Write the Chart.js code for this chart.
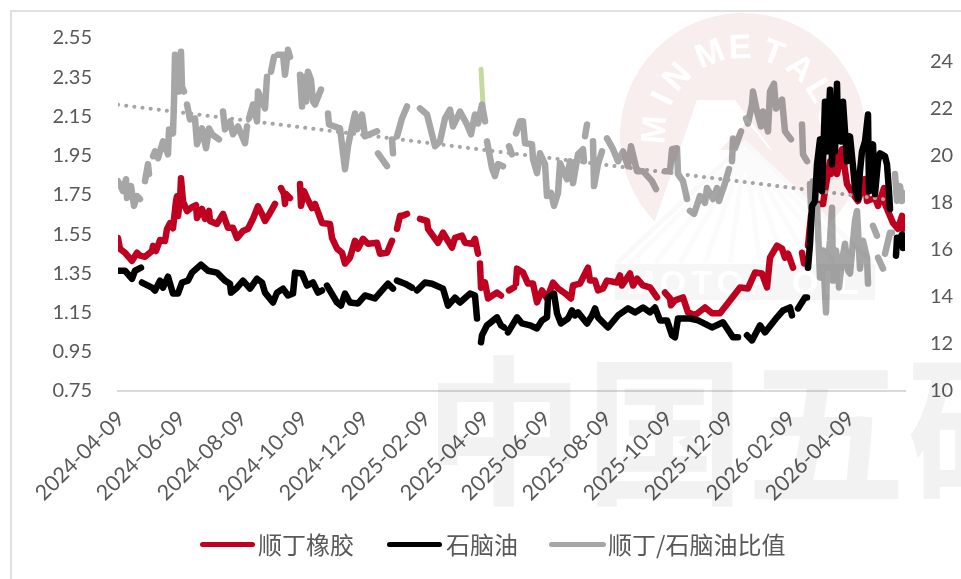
<!DOCTYPE html>
<html lang="zh">
<head>
<meta charset="utf-8">
<script src="https://cdn.jsdelivr.net/npm/chart.js@4"></script>
<style>
html,body{margin:0;padding:0;background:#fff;width:961px;height:579px;overflow:hidden}
#wrap{position:relative;width:961px;height:579px;overflow:hidden}
canvas{position:absolute;left:0;top:0}
#frame{position:absolute;left:10px;top:10px;width:960px;height:580px;border-left:2px solid #e0e0e0;border-top:2px solid #e0e0e0}
#mark{position:absolute;left:0;top:0;mix-blend-mode:multiply;pointer-events:none}
#legend{position:absolute;left:0;top:0;width:961px;height:579px;pointer-events:none;font-family:"Noto Sans CJK SC","Noto Sans",sans-serif;font-size:24px;color:#595959}
#legend .sw{position:absolute;height:5px;border-radius:3px;top:542px}
#legend .tx{position:absolute;top:527px;line-height:34px;white-space:nowrap}
</style>
</head>
<body>
<div id="wrap">
<canvas id="c" width="961" height="579"></canvas>
<div id="frame"></div>
<svg id="mark" width="961" height="579" xmlns="http://www.w3.org/2000/svg">
  <circle cx="743" cy="136" r="123" fill="#f9eeee"/>
  <polygon points="697,100 735,100 772,150 745,143 650,235" fill="#ffffff"/>
  <polygon points="720,150 770,150 747,122" fill="#f9eeee"/>
  <polygon points="617,263 745,143 873,263 873,300 617,300" fill="#ffffff"/>
  <g id="rays" stroke="#fbfbfb" stroke-width="5"></g>
  <polyline points="617,263 745,143 873,263" fill="none" stroke="#f9f9f9" stroke-width="5"/>
  <rect x="615" y="264" width="260" height="36" fill="#f6f6f6"/>
  <text x="745" y="294" text-anchor="middle" font-family="Liberation Sans" font-weight="700" font-size="34" letter-spacing="5" fill="#ffffff">MOTOR OIL</text>
  <g id="arc" font-family="Liberation Sans" font-weight="700" font-size="34" fill="#ffffff" text-anchor="middle"></g>
  <text x="424" y="492" font-family="Noto Sans CJK SC" font-weight="700" font-size="160" letter-spacing="1" fill="#f2f2f2">中国五矿</text>
</svg>
<div id="legend"></div>
</div>
<script>
const tickLabels = ["2024-04-09","2024-06-09","2024-08-09","2024-10-09","2024-12-09","2025-02-09","2025-04-09","2025-06-09","2025-08-09","2025-10-09","2025-12-09","2026-02-09","2026-04-09"];
const leftTicks = [0.75,0.95,1.15,1.35,1.55,1.75,1.95,2.15,2.35,2.55];
const rightTicks = [10,12,14,16,18,20,22,24];
const lastDay = 787;

const redDays = [0,2,7,14,19,22,27,34,35,38,42,47,49,52,55,58,59,60,62,63,65,69,74,78,79,84,87,91,92,99,105,110,115,119,125,130,135,140,144,147,152,157,null,163,166,167,168,172,null,182,183,186,189,194,197,204,212,214,219,224,227,232,237,240,245,250,259,262,269,274,null,279,282,284,289,null,302,309,310,320,325,334,337,344,347,354,357,360,null,362,363,367,370,379,383,null,391,396,null,398,399,405,410,415,419,424,429,435,440,447,453,455,462,470,472,477,480,485,489,499,502,504,512,515,519,525,532,539,null,547,552,553,557,565,570,577,587,594,602,612,622,630,637,644,649,652,659,664,667,670,675,null,684,686,null,690,693,697,705,707,712,713,717,719,724,729,735,740,747,749,757,760,766,767,775,780,784,785];
const redValues = [1.53,1.475,1.455,1.414,1.455,1.44,1.434,1.464,1.49,1.464,1.52,1.515,1.576,1.606,1.58,1.718,1.743,1.642,1.718,1.835,1.718,1.667,1.688,1.698,1.632,1.678,1.628,1.668,1.617,1.602,1.653,1.582,1.582,1.53,1.566,1.577,1.628,1.692,1.653,1.617,1.658,1.704,null,1.785,1.754,1.704,1.754,1.734,null,1.805,1.694,1.769,1.734,1.683,1.704,1.607,1.602,1.531,1.476,1.455,1.4,1.43,1.516,1.476,1.526,1.501,1.506,1.45,1.455,1.516,null,1.577,1.643,1.643,1.653,null,1.628,1.618,1.577,1.506,1.557,1.481,1.531,1.542,1.506,1.501,1.526,1.45,null,1.4,1.277,1.303,1.222,1.252,1.237,null,1.263,1.278,null,1.298,1.374,1.354,1.298,1.298,1.202,1.263,1.222,1.303,1.273,1.248,1.222,1.288,1.298,1.379,1.313,1.313,1.263,1.273,1.313,1.303,1.339,1.288,1.349,1.288,1.323,1.288,1.278,1.227,null,1.252,1.222,1.187,1.212,1.227,1.151,1.136,1.176,1.146,1.146,1.212,1.278,1.273,1.354,1.349,1.278,1.43,1.491,1.476,1.43,1.45,1.379,null,1.455,1.4,null,1.491,1.643,1.704,1.704,1.77,1.922,1.856,1.983,1.856,1.983,1.805,1.754,1.719,1.83,1.719,1.734,1.694,1.785,1.704,1.607,1.577,1.643,1.577];

const blackDays = [0,7,14,17,23,null,24,34,37,42,45,50,55,60,64,70,74,83,90,99,107,112,113,119,125,132,139,144,147,155,159,165,170,175,177,184,189,195,200,204,null,209,219,223,227,232,240,247,257,262,270,275,null,279,287,294,null,299,307,314,325,330,337,342,352,357,359,null,363,364,369,379,383,386,null,390,399,404,412,419,424,429,430,436,439,443,450,454,457,460,469,474,477,480,490,500,510,517,525,532,537,542,549,554,557,560,572,580,594,605,615,620,null,629,634,642,647,659,665,672,674,null,680,687,689,null,690,692,694,697,699,702,704,707,709,712,714,716,717,719,720,723,725,727,729,732,735,737,740,742,744,747,750,751,754,755,757,760,762,767,769,771,772,null,778,779,781,784,785];
const blackValues = [15.11,15.11,14.77,15.11,15.24,null,14.61,14.39,14.27,14.69,14.39,14.86,14.14,14.14,14.61,14.69,15.03,15.37,15.11,15.03,14.69,14.56,14.18,14.39,14.69,14.35,14.77,14.61,14.18,13.76,14.18,14.35,14.06,14.14,15.03,14.99,14.48,14.61,14.18,14.27,null,14.48,13.76,13.63,14.14,13.76,13.72,14.06,13.93,14.18,14.56,14.35,null,14.69,14.56,14.39,null,14.27,14.61,14.56,14.35,13.63,13.97,13.76,14.14,14.06,13.08,null,12.07,12.37,12.79,13.13,12.79,12.7,null,12.49,13.13,12.87,12.79,12.66,13.0,13.13,13.97,14.14,13.3,12.87,13.08,13.42,13.21,13.34,12.87,13.21,13.51,13.13,12.7,13.21,13.51,13.34,13.55,13.34,13.55,13.0,13.0,12.37,12.28,13.08,13.08,13.0,12.7,12.92,12.28,12.28,null,12.37,12.15,12.79,12.49,13.13,13.42,13.55,13.21,null,13.51,13.97,13.97,null,15.24,16.25,17.86,18.07,19.63,20.69,18.49,22.29,20.18,22.8,19.63,22.08,20.18,23.06,21.15,20.6,22.29,21.03,19.76,20.82,19.55,18.62,18.15,19.34,20.18,20.6,21.75,18.49,20.18,20.48,18.37,19.76,20.1,19.97,19.63,18.49,17.73,null,15.75,16.51,16.38,16.66,16.08];

const ratioDays = [0,5,8,9,13,16,19,22,null,27,30,31,null,35,37,40,45,50,51,55,56,57,58,60,61,63,64,66,null,69,72,77,79,84,88,91,94,101,null,105,107,112,115,120,127,129,null,131,135,139,140,144,147,149,null,153,156,null,160,165,167,170,172,null,182,184,186,188,190,193,195,197,203,null,210,211,222,227,230,232,237,239,244,247,259,null,260,269,null,274,275,null,279,284,289,null,302,309,317,322,327,332,335,342,349,353,357,360,364,367,null,369,374,377,380,385,null,391,394,null,398,402,405,407,414,415,419,422,427,429,433,436,440,442,449,452,455,460,465,466,null,467,469,null,475,476,480,484,null,489,495,500,505,510,513,519,525,534,538,null,547,552,554,559,560,565,569,null,572,576,582,587,589,595,599,601,607,611,null,614,615,617,623,null,628,630,634,635,639,643,645,650,652,656,658,664,667,673,null,684,685,689,null,692,693,695,696,null,699,702,705,708,709,712,714,715,718,720,721,724,727,730,732,737,739,742,745,749,750,null,755,759,null,760,765,null,767,772,774,null,777,779,782,784,785];
const ratioValues = [1.82,1.77,1.83,1.734,1.795,1.694,1.744,1.729,null,1.82,1.907,1.856,null,1.947,1.972,1.937,2.023,1.957,2.084,2.064,2.226,2.464,2.287,2.454,2.277,2.48,2.302,2.277,null,2.211,2.135,2.14,2.008,2.089,1.988,2.089,2.059,2.033,null,2.175,2.084,2.125,2.059,2.099,2.013,2.099,null,2.14,2.211,2.125,2.277,2.226,2.191,2.353,null,2.378,2.454,null,2.464,2.464,2.363,2.49,2.454,null,2.363,2.201,2.353,2.226,2.378,2.337,2.226,2.211,2.287,null,2.165,2.109,2.089,1.881,1.998,2.049,2.165,2.084,2.16,2.049,2.074,null,1.962,1.897,null,2.033,1.962,null,2.049,2.14,2.201,null,2.191,2.16,1.998,2.023,2.14,2.185,2.099,2.175,2.109,2.059,2.16,2.114,2.211,2.125,null,2.023,1.886,1.846,1.907,1.896,null,1.998,1.957,null,2.064,2.125,2.125,2.013,2.008,1.932,1.861,1.962,1.907,1.744,1.76,1.694,1.76,1.912,1.83,1.922,1.81,1.957,1.983,1.922,null,2.049,2.109,null,2.023,1.795,1.907,1.972,null,2.038,1.983,1.922,1.972,1.896,1.998,1.871,1.871,1.82,1.78,null,1.871,1.871,1.983,1.988,1.856,1.82,1.729,null,1.668,1.653,1.744,1.709,1.785,1.729,1.785,1.719,1.81,1.881,null,1.922,2.038,1.988,2.074,null,2.14,2.114,2.211,2.277,2.175,2.099,2.175,2.074,2.277,2.317,2.19,2.236,2.074,2.033,null,2.109,1.957,1.922,null,1.805,1.684,1.82,1.694,null,1.694,1.329,1.466,1.151,1.364,1.516,1.684,1.313,1.466,1.379,1.278,1.415,1.501,1.364,1.349,1.618,1.668,1.374,1.516,1.43,1.298,null,1.592,1.542,null,1.43,1.374,null,1.45,1.557,1.557,null,1.856,1.72,1.795,1.719,1.76];

const trendDays = [0,772];
const trendValues = [2.21,1.724];
const greenDays = [363,365];
const greenValues = [2.39,2.21];

const start = Date.parse(tickLabels[0]);
const tickDays = tickLabels.map(s => Math.round((Date.parse(s) - start) / 864e5));
function pts(days, vals) {
  const out = [];
  let prev = 0;
  days.forEach((d, i) => {
    if (d === null) out.push({x: prev + 0.5, y: null});
    else { out.push({x: d, y: vals[i]}); prev = d; }
  });
  return out;
}
function series(label, days, vals, color, axis, order, extra) {
  return Object.assign({
    label, data: pts(days, vals), borderColor: color, backgroundColor: color, yAxisID: axis, order,
    borderWidth: 6.5, pointRadius: 0, tension: 0, spanGaps: false,
    borderCapStyle: 'round', borderJoinStyle: 'round'
  }, extra || {});
}
const fontTick = {family: 'Lato', size: 20};
const fontDate = {family: 'Lato', size: 21.5};
const tickColor = '#595959';

const chart = new Chart(document.getElementById('c'), {
  type: 'line',
  data: {datasets: [
    series('顺丁橡胶', redDays, redValues, '#c00020', 'y', 5),
    series('石脑油', blackDays, blackValues, '#000000', 'y1', 1),
    series('顺丁/石脑油比值', ratioDays, ratioValues, '#a6a6a6', 'y', 2),
    series('比值趋势', trendDays, trendValues, '#a6a6a6', 'y', 3, {borderWidth: 4, borderDash: [0.1, 8.1]}),
    series('比值延伸', greenDays, greenValues, '#c5da9e', 'y', 4, {borderWidth: 5})
  ]},
  options: {
    responsive: false, animation: false, events: [],
    layout: {padding: {top: 36, left: 0, right: 0, bottom: 0}},
    plugins: {legend: {display: false}, tooltip: {enabled: false}},
    scales: {
      x: {
        type: 'linear', min: 0, max: lastDay,
        afterBuildTicks: s => { s.ticks = tickDays.map(v => ({value: v})); },
        afterFit: s => { s.height = 188; },
        grid: {display: false, drawTicks: false},
        border: {color: '#d9d9d9', width: 2},
        ticks: {
          autoSkip: false, minRotation: 45, maxRotation: 45, padding: 15, labelOffset: 3,
          font: fontDate, color: tickColor,
          callback: v => tickLabels[tickDays.indexOf(v)]
        }
      },
      y: {
        position: 'left', min: 0.75, max: 2.55,
        afterBuildTicks: s => { s.ticks = leftTicks.map(v => ({value: v})); },
        afterFit: s => { s.width = 118; },
        grid: {display: false, drawTicks: false},
        border: {display: false},
        ticks: {padding: 26, font: fontTick, color: tickColor, callback: v => v.toFixed(2)}
      },
      y1: {
        position: 'right', min: 10, max: 25,
        afterBuildTicks: s => { s.ticks = rightTicks.map(v => ({value: v})); },
        afterFit: s => { s.width = 56; },
        grid: {display: false, drawTicks: false},
        border: {display: false},
        ticks: {padding: 25, font: fontTick, color: tickColor, callback: v => String(v)}
      }
    }
  }
});

/* legend built from the chart's own datasets */
const legendSlots = [[200,55,258],[387,55,446],[549,57,608]];
const legendEl = document.getElementById('legend');
chart.data.datasets.slice(0, 3).forEach((ds, i) => {
  const [sx, sw, tx] = legendSlots[i];
  const s = document.createElement('div'); s.className = 'sw';
  s.style.left = sx + 'px'; s.style.width = sw + 'px'; s.style.background = ds.borderColor;
  const t = document.createElement('div'); t.className = 'tx';
  t.style.left = tx + 'px'; t.textContent = ds.label;
  legendEl.append(s, t);
});

/* watermark details */
const NS = 'http://www.w3.org/2000/svg';
const arc = document.getElementById('arc');
[['M',176],['I',155],['N',138],['M',112],['E',92],['T',70],['A',50],['L',31],['S',12]].forEach(([ch, a]) => {
  const r = a * Math.PI / 180, cx = 743 + 90 * Math.cos(r), cy = 136 - 90 * Math.sin(r);
  const t = document.createElementNS(NS, 'text');
  t.setAttribute('transform', `translate(${cx} ${cy}) rotate(${90 - a})`);
  t.setAttribute('y', 12); t.textContent = ch; arc.appendChild(t);
});
const rays = document.getElementById('rays');
[630,655,680,705,730,760,785,810,835,860].forEach(x => {
  const l = document.createElementNS(NS, 'line');
  l.setAttribute('x1', 745); l.setAttribute('y1', 150); l.setAttribute('x2', x); l.setAttribute('y2', 263);
  rays.appendChild(l);
});
</script>
</body>
</html>
